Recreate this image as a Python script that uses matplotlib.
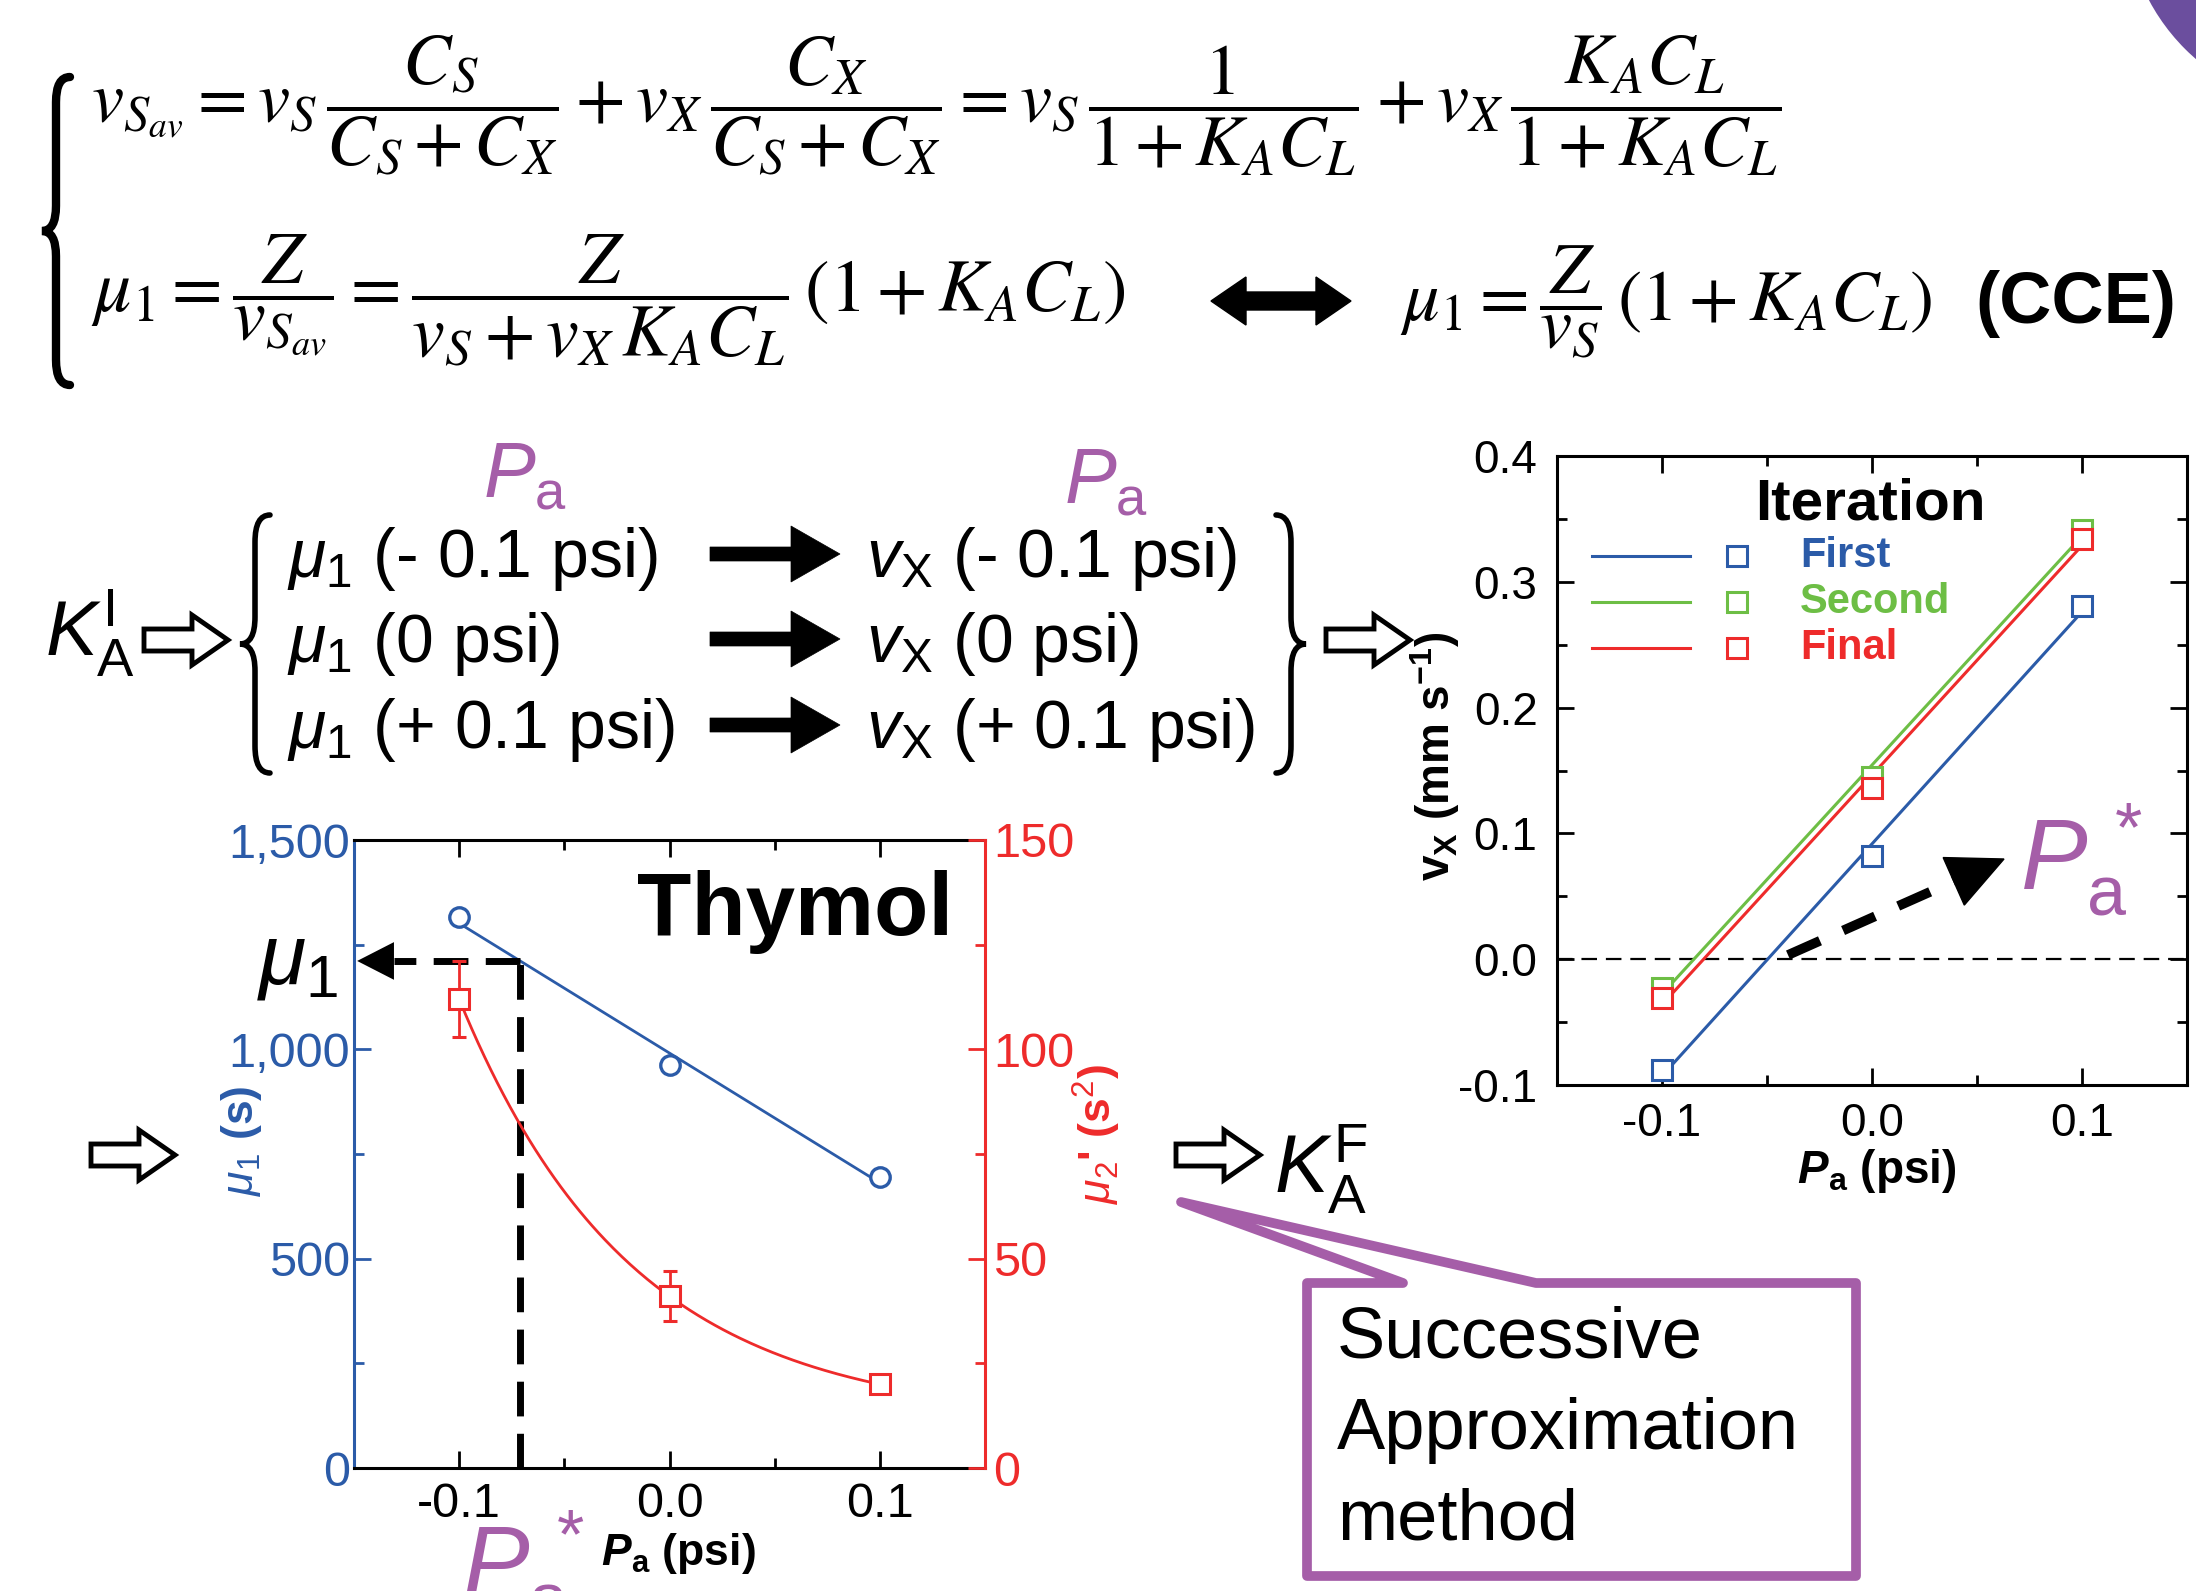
import numpy as np
import matplotlib
matplotlib.use("Agg")
import matplotlib.pyplot as plt
from matplotlib import font_manager
from matplotlib.path import Path
from matplotlib.patches import PathPatch, Polygon, Circle

W, H = 2196, 1591

installed = {f.name for f in font_manager.fontManager.ttflist}
NARROW = "Liberation Sans Narrow" if "Liberation Sans Narrow" in installed else "Liberation Sans"
SANS = "Liberation Sans"

plt.rcParams["font.family"] = [NARROW, "DejaVu Sans"]
plt.rcParams["mathtext.fontset"] = "custom"
plt.rcParams["mathtext.rm"] = NARROW
plt.rcParams["mathtext.it"] = NARROW + ":italic"
plt.rcParams["mathtext.bf"] = SANS + ":bold"
try:
    plt.rcParams["mathtext.bfit"] = SANS + ":italic:bold"
except KeyError:
    pass

BLUE = "#2B5BA8"
RED = "#EE2B2B"
GREEN = "#6DBE45"
PURPLE = "#A55EA8"

# ---- data ----
pa = np.array([-0.1, 0.0, 0.1])              # P_a (psi)
mu1 = np.array([1315, 963, 695])             # mu_1 (s)
mu1_err = np.array([14, 14, 14])
mu2 = np.array([112, 41, 20])                # mu_2' (s^2)
mu2_err = np.array([9, 6, 1])
vx_first = np.array([-0.088, 0.082, 0.281])  # v_X (mm/s)
vx_second = np.array([-0.023, 0.145, 0.341])
vx_final = np.array([-0.031, 0.136, 0.334])
iterations = ["First", "Second", "Final"]

mu1_ticks = [0, 500, 1000, 1500]
mu1_ticklabels = ["0", "500", "1,000", "1,500"]
mu2_ticks = [0, 50, 100, 150]
pa_ticks = [-0.1, 0.0, 0.1]
pa_ticklabels = ["-0.1", "0.0", "0.1"]
vx_ticks = [-0.1, 0.0, 0.1, 0.2, 0.3, 0.4]
vx_ticklabels = ["-0.1", "0.0", "0.1", "0.2", "0.3", "0.4"]
pa_star = -0.071

fig = plt.figure(figsize=(W / 100, H / 100), dpi=100)
fig.patch.set_facecolor("white")


def px_rect(l, t, r, b):
    return [l / W, 1 - b / H, (r - l) / W, (b - t) / H]


# ---- left chart: Thymol ----
axL = fig.add_axes(px_rect(354, 840, 985, 1468))
axL.patch.set_alpha(0)
axT = axL.twinx()
axL.set_xlim(-0.15, 0.15)
axL.set_ylim(0, 1500)
axT.set_ylim(0, 150)

xs = np.linspace(-0.1, 0.1, 200)
lin = np.polyfit(pa, mu1, 1)
axL.plot(xs, np.polyval(lin, xs), color=BLUE, lw=2, zorder=3)
axL.errorbar(pa, mu1, yerr=mu1_err, fmt="o", ms=14, mfc="white", mec=BLUE,
             mew=2.4, ecolor=BLUE, elinewidth=2, capsize=4, zorder=4)

# exponential decay through the three mu2 points
q = (mu2[0] - mu2[1]) / (mu2[1] - mu2[2])
A = (mu2[0] - mu2[1]) / (q - 1)
C = mu2[1] - A
axT.plot(xs, A * q ** (-xs / 0.1) + C, color=RED, lw=2, zorder=3)
axT.errorbar(pa, mu2, yerr=mu2_err, fmt="s", ms=14, mfc="white", mec=RED,
             mew=2.2, ecolor=RED, elinewidth=2, capsize=5, zorder=4)

axL.set_xticks(pa_ticks)
axL.set_xticklabels(pa_ticklabels)
axL.set_xticks([-0.05, 0.05], minor=True)
axL.set_yticks(mu1_ticks)
axL.set_yticklabels(mu1_ticklabels)
axL.set_yticks([250, 750, 1250], minor=True)
axT.set_yticks(mu2_ticks)
axT.set_yticklabels([str(v) for v in mu2_ticks])
axT.set_yticks([25, 75, 125], minor=True)

axL.tick_params(axis="x", which="both", direction="in", top=True, bottom=True,
                width=2, labelsize=35, pad=10, colors="k")
axL.tick_params(axis="x", which="major", length=12)
axL.tick_params(axis="x", which="minor", length=7)
axL.tick_params(axis="y", which="both", direction="in", left=True, right=False,
                width=2, labelsize=35, pad=3, colors=BLUE)
axL.tick_params(axis="y", which="major", length=12)
axL.tick_params(axis="y", which="minor", length=7)
axT.tick_params(axis="y", which="both", direction="in", right=True, left=False,
                width=2, labelsize=35, pad=6, colors=RED)
axT.tick_params(axis="y", which="major", length=12)
axT.tick_params(axis="y", which="minor", length=7)

for s in ["top", "bottom"]:
    axL.spines[s].set_linewidth(2.2)
    axL.spines[s].set_color("black")
axL.spines["left"].set_color(BLUE)
axL.spines["left"].set_linewidth(2.2)
axL.spines["right"].set_visible(False)
for s in ["top", "bottom", "left"]:
    axT.spines[s].set_visible(False)
axT.spines["right"].set_color(RED)
axT.spines["right"].set_linewidth(2.2)

# guide from P_a* up to the mu_1 fit and over to the axis
mu_star = np.polyval(lin, pa_star)
axL.plot([pa_star, pa_star], [0, mu_star], color="k", lw=5, dashes=(5, 2.5),
         dash_capstyle="butt", zorder=5)
axL.plot([pa_star, -0.131], [mu_star, mu_star], color="k", lw=5, dashes=(5, 2.5),
         dash_capstyle="butt", zorder=5)
axL.add_patch(Polygon([(-0.1485, mu_star), (-0.131, mu_star + 45), (-0.131, mu_star - 45)],
                      closed=True, fc="k", ec="k", lw=0, zorder=5, clip_on=False))

# ---- right chart: v_X vs P_a ----
axV = fig.add_axes(px_rect(1557, 456, 2187, 1085))
axV.patch.set_alpha(0)
axV.set_xlim(-0.15, 0.15)
axV.set_ylim(-0.1, 0.4)
axV.axhline(0, color="k", lw=1.6, dashes=(7, 4), zorder=1)
series = [vx_first, vx_second, vx_final]
colors = [BLUE, GREEN, RED]
for vals, col in zip(series, colors):
    f = np.polyfit(pa, vals, 1)
    axV.plot(xs, np.polyval(f, xs), color=col, lw=2.2, zorder=3)
    axV.plot(pa, vals, "s", ms=15, mfc="white", mec=col, mew=2.2, zorder=4)

axV.set_xticks(pa_ticks)
axV.set_xticklabels(pa_ticklabels)
axV.set_xticks([-0.05, 0.05], minor=True)
axV.set_yticks(vx_ticks)
axV.set_yticklabels(vx_ticklabels)
axV.set_yticks([-0.05, 0.05, 0.15, 0.25, 0.35], minor=True)
axV.tick_params(which="both", direction="in", top=True, right=True, width=2,
                labelsize=33, colors="k")
axV.tick_params(axis="x", pad=12)
axV.tick_params(axis="y", pad=14)
axV.tick_params(which="major", length=12)
axV.tick_params(which="minor", length=7)
for s in axV.spines.values():
    s.set_linewidth(2.2)

# ---- overlay in pixel coordinates ----
ov = fig.add_axes([0, 0, 1, 1])
ov.set_zorder(10)
ov.patch.set_alpha(0)
ov.set_xlim(0, W)
ov.set_ylim(H, 0)
ov.axis("off")

ov.add_patch(Circle((2330, -96), 205, color="#6B4E9E", lw=0))


def brace(x_tip, width, y0, y1, side="left", lw=4):
    ym = (y0 + y1) / 2
    sgn = 1 if side == "left" else -1
    xr = x_tip + sgn * width
    xc = x_tip + sgn * width / 2
    r = width * 0.9
    verts = [(xr, y0), (xc, y0), (xc, y0 + r), (xc, ym - r), (xc, ym), (x_tip, ym),
             (xc, ym), (xc, ym + r), (xc, y1 - r), (xc, y1), (xr, y1)]
    codes = [Path.MOVETO, Path.CURVE3, Path.CURVE3, Path.LINETO, Path.CURVE3, Path.CURVE3,
             Path.CURVE3, Path.CURVE3, Path.LINETO, Path.CURVE3, Path.CURVE3]
    ov.add_patch(PathPatch(Path(verts, codes), fc="none", ec="k", lw=lw, capstyle="round"))


def hollow_arrow(x0, yc, length=84, head=36, hh=25, hs=11):
    p = [(x0, yc - hs), (x0 + length - head, yc - hs), (x0 + length - head, yc - hh),
         (x0 + length, yc), (x0 + length - head, yc + hh), (x0 + length - head, yc + hs),
         (x0, yc + hs)]
    ov.add_patch(Polygon(p, closed=True, fc="white", ec="k", lw=3.5, joinstyle="miter"))


def solid_arrow(x0, x1, yc, head=49, hh=28, hs=7):
    p = [(x0, yc - hs), (x1 - head, yc - hs), (x1 - head, yc - hh), (x1, yc),
         (x1 - head, yc + hh), (x1 - head, yc + hs), (x0, yc + hs)]
    ov.add_patch(Polygon(p, closed=True, fc="k", ec="k", lw=0.5))


def pa_label(x, y, size, star=False):
    s = r"$P_{\mathrm{a}}^{\,*}$" if star else r"$P_{\mathrm{a}}$"
    ov.text(x, y, s, fontsize=size, color=PURPLE, va="baseline")


# equations
brace(42, 28, 77, 385, lw=6)
eq1 = (r"$v_{S_{av}}=v_S\,\dfrac{C_S}{C_S+C_X}+v_X\,\dfrac{C_X}{C_S+C_X}"
       r"=v_S\,\dfrac{1}{1+K_AC_L}+v_X\,\dfrac{K_AC_L}{1+K_AC_L}$")
eq2a = r"$\mu_1=\dfrac{Z}{v_{S_{av}}}=\dfrac{Z}{v_S+v_X\,K_AC_L}\,(1+K_AC_L)$"
eq2b = r"$\mu_1=\dfrac{Z}{v_S}\,(1+K_AC_L)$"
ov.text(91, 105, eq1, fontsize=52, math_fontfamily="stix", ha="left", va="center")
ov.text(91, 301, eq2a, fontsize=53, math_fontfamily="stix", ha="left", va="center")
ov.text(1400, 301, eq2b, fontsize=52, math_fontfamily="stix", ha="left", va="center")
ov.text(1975, 304, "(CCE)", fontsize=52, family=SANS, weight="bold", ha="left", va="center")
dx0, dx1, dy = 1211, 1351, 301
ov.add_patch(Polygon([(dx0, dy), (dx0 + 35, dy - 24), (dx0 + 35, dy - 9), (dx1 - 35, dy - 9),
                      (dx1 - 35, dy - 24), (dx1, dy), (dx1 - 35, dy + 24), (dx1 - 35, dy + 9),
                      (dx0 + 35, dy + 9), (dx0 + 35, dy + 24)], closed=True, fc="k", ec="k"))

# successive approximation scheme
ov.text(45, 656, r"$K_{\mathrm{A}}^{\mathrm{I}}$", fontsize=56, va="baseline")
hollow_arrow(144, 640)
brace(240, 30, 515, 773, "left", lw=4)
brace(1306, 30, 515, 773, "right", lw=4)
hollow_arrow(1326, 640)
pa_label(483, 497, 56)
pa_label(1064, 503, 56)
rows_mu = [r"$\mu_1$ (- 0.1 psi)", r"$\mu_1$ (0 psi)", r"$\mu_1$ (+ 0.1 psi)"]
rows_vx = [r"$v_{\mathrm{X}}$ (- 0.1 psi)", r"$v_{\mathrm{X}}$ (0 psi)", r"$v_{\mathrm{X}}$ (+ 0.1 psi)"]
for yb, tm, tv in zip([577, 662, 748], rows_mu, rows_vx):
    ov.text(287, yb, tm, fontsize=49, va="baseline")
    ov.text(866, yb, tv, fontsize=49, va="baseline")
    solid_arrow(710, 840, yb - 23)

# left chart labels
ov.text(795, 912, "Thymol", fontsize=64, family=SANS, weight="bold", ha="center", va="center")
ov.text(298, 962, r"$\mu_1$", fontsize=62, ha="center", va="center")
ov.text(241, 1141, r"$\mu_1$ (s)", fontsize=32, family=SANS, weight="bold", color=BLUE,
        rotation=90, ha="center", va="center")
ov.text(1097, 1134, r"$\mu_2$' (s$^2$)", fontsize=32, family=SANS, weight="bold", color=RED,
        rotation=90, ha="center", va="center")
ov.text(678, 1554, r"$\mathbfit{P}_{\mathbf{a}}$ (psi)", fontsize=32, family=SANS,
        weight="bold", ha="center", va="center")
pa_label(462, 1596, 72, star=True)
hollow_arrow(91, 1155)
hollow_arrow(1176, 1155)
ov.text(1274, 1193, r"$K_{\mathrm{A}}^{\mathrm{F}}$", fontsize=58, va="baseline")

# callout
ov.add_patch(Polygon([(1307, 1283), (1403, 1283), (1181, 1202), (1536, 1283), (1856, 1283),
                      (1856, 1576), (1307, 1576)], closed=True, fc="white", ec=PURPLE,
                     lw=7, joinstyle="round"))
for yb, t in zip([1358, 1449, 1540], ["Successive", "Approximation", "method"]):
    ov.text(1337, yb, t, fontsize=52, va="baseline")

# right chart labels and legend
ov.text(1435, 756, r"$\mathbf{v}_{\mathbf{X}}$ (mm s$^{\mathbf{-1}}$)", fontsize=33,
        family=SANS, weight="bold", rotation=90, ha="center", va="center")
ov.text(1877, 1171, r"$\mathbfit{P}_{\mathbf{a}}$ (psi)", fontsize=33, family=SANS,
        weight="bold", ha="center", va="center")
ov.text(1870, 504, "Iteration", fontsize=42, family=SANS, weight="bold", ha="center",
        va="center")
for yl, name, col in zip([556, 602, 648], iterations, colors):
    ov.plot([1592, 1690], [yl, yl], color=col, lw=2.2)
    ov.plot([1737], [yl], "s", ms=14, mfc="white", mec=col, mew=2.2)
    ov.text(1800, yl, name, fontsize=30, family=SANS, weight="bold", color=col,
            va="center")

# dashed arrow towards P_a*
sx, sy, tx, ty = 1788, 955, 2004, 859
u = np.array([tx - sx, ty - sy], float)
u /= np.hypot(*u)
n = np.array([-u[1], u[0]])
bx, by = np.array([tx, ty]) - 55 * u
ov.plot([sx, bx], [sy, by], color="k", lw=7, dashes=(3.6, 2.6), dash_capstyle="butt")
ov.add_patch(Polygon([(tx, ty), (bx + 26 * n[0], by + 26 * n[1]), (bx - 26 * n[0], by - 26 * n[1])],
                     closed=True, fc="k", ec="k"))
pa_label(2020, 889, 72, star=True)

fig.savefig("out.png", dpi=100)
